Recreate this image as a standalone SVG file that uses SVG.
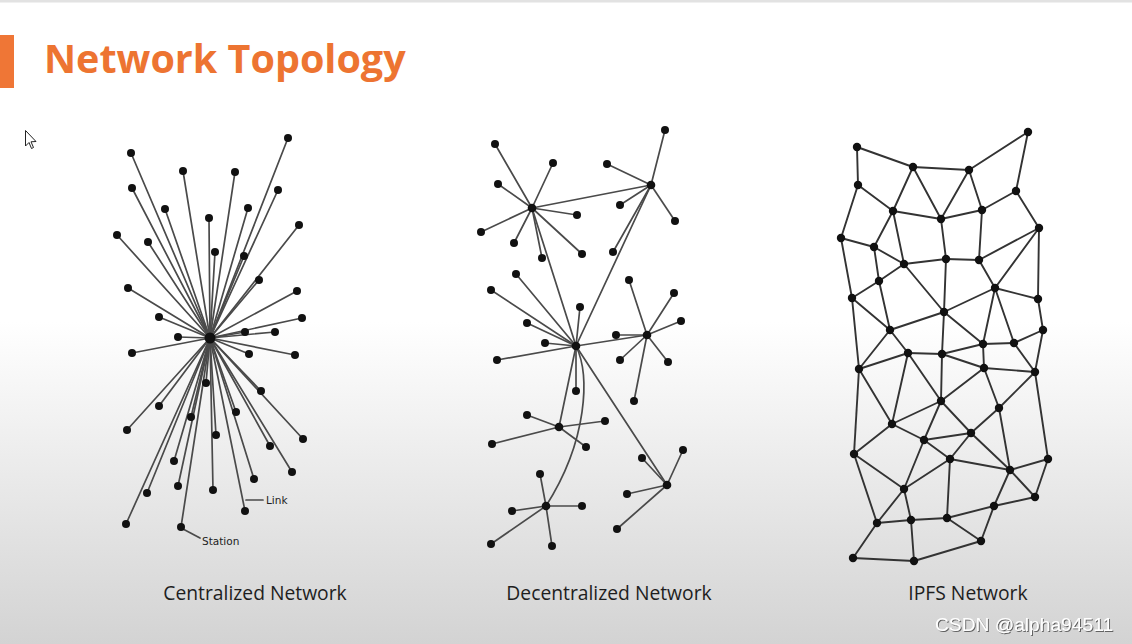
<svg xmlns="http://www.w3.org/2000/svg" width="1132" height="644" viewBox="0 0 1132 644">
<defs>
<linearGradient id="bg" x1="0" y1="0" x2="0" y2="1">
<stop offset="0" stop-color="#ffffff"/>
<stop offset="0.5" stop-color="#ffffff"/>
<stop offset="1" stop-color="#d3d3d3"/>
</linearGradient>
<filter id="sh" x="-10%" y="-30%" width="120%" height="160%">
<feDropShadow dx="1" dy="1" stdDeviation="0.6" flood-color="#555" flood-opacity="0.9"/>
</filter>
</defs>
<style>
.e{stroke:#4a4a4a;stroke-width:1.7;fill:none;stroke-linecap:round}
.ei{stroke:#333;stroke-width:1.9;fill:none;stroke-linecap:round}
.n{fill:#111}
.lab{font-family:"Open Sans","Liberation Sans",sans-serif;font-size:19.3px;fill:#1e1e1e;text-anchor:middle}
.small{font-family:"DejaVu Sans",sans-serif;font-size:10.5px;fill:#222}
</style>
<rect x="0" y="0" width="1132" height="644" fill="url(#bg)"/>
<rect x="0" y="0" width="1132" height="2.5" fill="#e2e2e2"/>
<g id="title">
<rect x="0" y="35" width="14" height="53" fill="#ef7636"/>
<text x="44" y="73" font-family="'Open Sans','Liberation Sans',sans-serif" font-weight="bold" font-size="39.5" fill="#ed7431">Network Topology</text>
</g>
<g id="cursor">
<path d="M25.5,130.5 L25.5,146 L29,142.5 L31.5,148.5 L33.5,147.5 L31,141.8 L36,141.5 Z" fill="#fff" stroke="#222" stroke-width="1"/>
</g>
<g id="connectors">
<g id="central-links">
<line class="e" x1="210" y1="338" x2="131" y2="153"/>
<line class="e" x1="210" y1="338" x2="288" y2="138"/>
<line class="e" x1="210" y1="338" x2="183" y2="171"/>
<line class="e" x1="210" y1="338" x2="235" y2="172"/>
<line class="e" x1="210" y1="338" x2="132" y2="188"/>
<line class="e" x1="210" y1="338" x2="278" y2="190"/>
<line class="e" x1="210" y1="338" x2="165" y2="209"/>
<line class="e" x1="210" y1="338" x2="248" y2="208"/>
<line class="e" x1="210" y1="338" x2="209" y2="218"/>
<line class="e" x1="210" y1="338" x2="299" y2="225"/>
<line class="e" x1="210" y1="338" x2="117" y2="235"/>
<line class="e" x1="210" y1="338" x2="148" y2="242"/>
<line class="e" x1="210" y1="338" x2="215" y2="252"/>
<line class="e" x1="210" y1="338" x2="244" y2="256"/>
<line class="e" x1="210" y1="338" x2="259" y2="280"/>
<line class="e" x1="210" y1="338" x2="128" y2="288"/>
<line class="e" x1="210" y1="338" x2="297" y2="291"/>
<line class="e" x1="210" y1="338" x2="159" y2="317"/>
<line class="e" x1="210" y1="338" x2="302" y2="318"/>
<line class="e" x1="210" y1="338" x2="245" y2="332"/>
<line class="e" x1="210" y1="338" x2="275" y2="332"/>
<line class="e" x1="210" y1="338" x2="178" y2="337"/>
<line class="e" x1="210" y1="338" x2="132" y2="353"/>
<line class="e" x1="210" y1="338" x2="249" y2="354"/>
<line class="e" x1="210" y1="338" x2="295" y2="355"/>
<line class="e" x1="210" y1="338" x2="206" y2="383"/>
<line class="e" x1="210" y1="338" x2="261" y2="391"/>
<line class="e" x1="210" y1="338" x2="159" y2="406"/>
<line class="e" x1="210" y1="338" x2="236" y2="412"/>
<line class="e" x1="210" y1="338" x2="191" y2="417"/>
<line class="e" x1="210" y1="338" x2="127" y2="430"/>
<line class="e" x1="210" y1="338" x2="303" y2="439"/>
<line class="e" x1="210" y1="338" x2="216" y2="435"/>
<line class="e" x1="210" y1="338" x2="270" y2="446"/>
<line class="e" x1="210" y1="338" x2="174" y2="461"/>
<line class="e" x1="210" y1="338" x2="292" y2="472"/>
<line class="e" x1="210" y1="338" x2="254" y2="479"/>
<line class="e" x1="210" y1="338" x2="178" y2="486"/>
<line class="e" x1="210" y1="338" x2="213" y2="490"/>
<line class="e" x1="210" y1="338" x2="147" y2="493"/>
<line class="e" x1="210" y1="338" x2="245" y2="511"/>
<line class="e" x1="210" y1="338" x2="126" y2="524"/>
<line class="e" x1="210" y1="338" x2="181" y2="527"/>
<line class="e" x1="246" y1="500" x2="263" y2="500" stroke-width="1.3"/>
<line class="e" x1="183" y1="529" x2="200" y2="538" stroke-width="1.3"/>
</g>
<g id="decentral-links">
<line class="e" x1="532" y1="208" x2="495" y2="144"/>
<line class="e" x1="532" y1="208" x2="553" y2="163"/>
<line class="e" x1="532" y1="208" x2="498" y2="184"/>
<line class="e" x1="532" y1="208" x2="577" y2="215"/>
<line class="e" x1="532" y1="208" x2="481" y2="232"/>
<line class="e" x1="532" y1="208" x2="514" y2="243"/>
<line class="e" x1="532" y1="208" x2="542" y2="258"/>
<line class="e" x1="532" y1="208" x2="582" y2="254"/>
<line class="e" x1="532" y1="208" x2="651" y2="185"/>
<line class="e" x1="532" y1="208" x2="576" y2="346"/>
<line class="e" x1="651" y1="185" x2="665" y2="130"/>
<line class="e" x1="651" y1="185" x2="607" y2="164"/>
<line class="e" x1="651" y1="185" x2="620" y2="205"/>
<line class="e" x1="651" y1="185" x2="675" y2="221"/>
<line class="e" x1="651" y1="185" x2="613" y2="252"/>
<line class="e" x1="651" y1="185" x2="576" y2="346"/>
<line class="e" x1="576" y1="346" x2="491" y2="290"/>
<line class="e" x1="576" y1="346" x2="516" y2="274"/>
<line class="e" x1="576" y1="346" x2="580" y2="307"/>
<line class="e" x1="576" y1="346" x2="527" y2="323"/>
<line class="e" x1="576" y1="346" x2="545" y2="343"/>
<line class="e" x1="576" y1="346" x2="497" y2="360"/>
<line class="e" x1="576" y1="346" x2="576" y2="391"/>
<line class="e" x1="576" y1="346" x2="647" y2="335"/>
<line class="e" x1="576" y1="346" x2="559" y2="427"/>
<line class="e" x1="576" y1="346" x2="667" y2="485"/>
<path class="e" d="M576,346 C590,375 588,440 546,506"/>
<line class="e" x1="647" y1="335" x2="629" y2="280"/>
<line class="e" x1="647" y1="335" x2="674" y2="293"/>
<line class="e" x1="647" y1="335" x2="681" y2="321"/>
<line class="e" x1="647" y1="335" x2="616" y2="335"/>
<line class="e" x1="647" y1="335" x2="620" y2="360"/>
<line class="e" x1="647" y1="335" x2="668" y2="362"/>
<line class="e" x1="647" y1="335" x2="634" y2="401"/>
<line class="e" x1="559" y1="427" x2="527" y2="415"/>
<line class="e" x1="559" y1="427" x2="605" y2="421"/>
<line class="e" x1="559" y1="427" x2="586" y2="447"/>
<line class="e" x1="559" y1="427" x2="492" y2="444"/>
<line class="e" x1="667" y1="485" x2="642" y2="458"/>
<line class="e" x1="667" y1="485" x2="683" y2="450"/>
<line class="e" x1="667" y1="485" x2="627" y2="494"/>
<line class="e" x1="667" y1="485" x2="617" y2="529"/>
<line class="e" x1="546" y1="506" x2="540" y2="474"/>
<line class="e" x1="546" y1="506" x2="512" y2="511"/>
<line class="e" x1="546" y1="506" x2="582" y2="506"/>
<line class="e" x1="546" y1="506" x2="491" y2="544"/>
<line class="e" x1="546" y1="506" x2="552" y2="546"/>
</g>
<g id="ipfs-links">
<line class="ei" x1="857" y1="147" x2="913" y2="167"/>
<line class="ei" x1="857" y1="147" x2="858" y2="185"/>
<line class="ei" x1="913" y1="167" x2="969" y2="170"/>
<line class="ei" x1="969" y1="170" x2="1028" y2="132"/>
<line class="ei" x1="1028" y1="132" x2="1016" y2="191"/>
<line class="ei" x1="913" y1="167" x2="893" y2="211"/>
<line class="ei" x1="913" y1="167" x2="941" y2="219"/>
<line class="ei" x1="969" y1="170" x2="941" y2="219"/>
<line class="ei" x1="969" y1="170" x2="982" y2="210"/>
<line class="ei" x1="1016" y1="191" x2="982" y2="210"/>
<line class="ei" x1="1016" y1="191" x2="1039" y2="228"/>
<line class="ei" x1="858" y1="185" x2="893" y2="211"/>
<line class="ei" x1="858" y1="185" x2="841" y2="238"/>
<line class="ei" x1="893" y1="211" x2="941" y2="219"/>
<line class="ei" x1="893" y1="211" x2="874" y2="247"/>
<line class="ei" x1="893" y1="211" x2="904" y2="264"/>
<line class="ei" x1="941" y1="219" x2="982" y2="210"/>
<line class="ei" x1="941" y1="219" x2="946" y2="259"/>
<line class="ei" x1="982" y1="210" x2="979" y2="260"/>
<line class="ei" x1="841" y1="238" x2="874" y2="247"/>
<line class="ei" x1="841" y1="238" x2="852" y2="298"/>
<line class="ei" x1="874" y1="247" x2="904" y2="264"/>
<line class="ei" x1="874" y1="247" x2="879" y2="281"/>
<line class="ei" x1="904" y1="264" x2="946" y2="259"/>
<line class="ei" x1="946" y1="259" x2="979" y2="260"/>
<line class="ei" x1="979" y1="260" x2="1039" y2="228"/>
<line class="ei" x1="1039" y1="228" x2="995" y2="288"/>
<line class="ei" x1="1039" y1="228" x2="1038" y2="299"/>
<line class="ei" x1="979" y1="260" x2="995" y2="288"/>
<line class="ei" x1="904" y1="264" x2="879" y2="281"/>
<line class="ei" x1="879" y1="281" x2="852" y2="298"/>
<line class="ei" x1="879" y1="281" x2="890" y2="330"/>
<line class="ei" x1="904" y1="264" x2="944" y2="312"/>
<line class="ei" x1="946" y1="259" x2="944" y2="312"/>
<line class="ei" x1="995" y1="288" x2="944" y2="312"/>
<line class="ei" x1="995" y1="288" x2="1038" y2="299"/>
<line class="ei" x1="852" y1="298" x2="890" y2="330"/>
<line class="ei" x1="1038" y1="299" x2="1043" y2="330"/>
<line class="ei" x1="890" y1="330" x2="944" y2="312"/>
<line class="ei" x1="852" y1="298" x2="859" y2="369"/>
<line class="ei" x1="890" y1="330" x2="908" y2="353"/>
<line class="ei" x1="890" y1="330" x2="859" y2="369"/>
<line class="ei" x1="944" y1="312" x2="942" y2="354"/>
<line class="ei" x1="944" y1="312" x2="983" y2="344"/>
<line class="ei" x1="995" y1="288" x2="983" y2="344"/>
<line class="ei" x1="995" y1="288" x2="1014" y2="343"/>
<line class="ei" x1="1043" y1="330" x2="1014" y2="343"/>
<line class="ei" x1="1043" y1="330" x2="1035" y2="372"/>
<line class="ei" x1="908" y1="353" x2="942" y2="354"/>
<line class="ei" x1="942" y1="354" x2="983" y2="344"/>
<line class="ei" x1="983" y1="344" x2="1014" y2="343"/>
<line class="ei" x1="983" y1="344" x2="984" y2="368"/>
<line class="ei" x1="1014" y1="343" x2="1035" y2="372"/>
<line class="ei" x1="984" y1="368" x2="1035" y2="372"/>
<line class="ei" x1="859" y1="369" x2="908" y2="353"/>
<line class="ei" x1="908" y1="353" x2="892" y2="424"/>
<line class="ei" x1="908" y1="353" x2="941" y2="401"/>
<line class="ei" x1="942" y1="354" x2="941" y2="401"/>
<line class="ei" x1="942" y1="354" x2="984" y2="368"/>
<line class="ei" x1="984" y1="368" x2="941" y2="401"/>
<line class="ei" x1="984" y1="368" x2="999" y2="408"/>
<line class="ei" x1="1035" y1="372" x2="999" y2="408"/>
<line class="ei" x1="1035" y1="372" x2="1048" y2="459"/>
<line class="ei" x1="859" y1="369" x2="892" y2="424"/>
<line class="ei" x1="859" y1="369" x2="854" y2="454"/>
<line class="ei" x1="892" y1="424" x2="941" y2="401"/>
<line class="ei" x1="892" y1="424" x2="924" y2="440"/>
<line class="ei" x1="941" y1="401" x2="924" y2="440"/>
<line class="ei" x1="941" y1="401" x2="971" y2="433"/>
<line class="ei" x1="999" y1="408" x2="971" y2="433"/>
<line class="ei" x1="999" y1="408" x2="1010" y2="470"/>
<line class="ei" x1="971" y1="433" x2="924" y2="440"/>
<line class="ei" x1="971" y1="433" x2="950" y2="459"/>
<line class="ei" x1="971" y1="433" x2="1010" y2="470"/>
<line class="ei" x1="924" y1="440" x2="950" y2="459"/>
<line class="ei" x1="924" y1="440" x2="904" y2="489"/>
<line class="ei" x1="854" y1="454" x2="892" y2="424"/>
<line class="ei" x1="854" y1="454" x2="904" y2="489"/>
<line class="ei" x1="854" y1="454" x2="877" y2="523"/>
<line class="ei" x1="950" y1="459" x2="904" y2="489"/>
<line class="ei" x1="950" y1="459" x2="1010" y2="470"/>
<line class="ei" x1="950" y1="459" x2="947" y2="518"/>
<line class="ei" x1="1010" y1="470" x2="1048" y2="459"/>
<line class="ei" x1="1010" y1="470" x2="1035" y2="497"/>
<line class="ei" x1="1010" y1="470" x2="994" y2="506"/>
<line class="ei" x1="1048" y1="459" x2="1035" y2="497"/>
<line class="ei" x1="994" y1="506" x2="1035" y2="497"/>
<line class="ei" x1="994" y1="506" x2="947" y2="518"/>
<line class="ei" x1="994" y1="506" x2="981" y2="541"/>
<line class="ei" x1="947" y1="518" x2="981" y2="541"/>
<line class="ei" x1="947" y1="518" x2="911" y2="520"/>
<line class="ei" x1="911" y1="520" x2="877" y2="523"/>
<line class="ei" x1="911" y1="520" x2="904" y2="489"/>
<line class="ei" x1="877" y1="523" x2="904" y2="489"/>
<line class="ei" x1="911" y1="520" x2="914" y2="561"/>
<line class="ei" x1="877" y1="523" x2="853" y2="558"/>
<line class="ei" x1="853" y1="558" x2="914" y2="561"/>
<line class="ei" x1="914" y1="561" x2="981" y2="541"/>
</g>
</g>
<g id="central-nodes">
<g id="c-hub"><circle class="n" cx="210" cy="338" r="5.5"/></g>
<g id="c1"><circle class="n" cx="131" cy="153" r="4"/></g>
<g id="c2"><circle class="n" cx="288" cy="138" r="4"/></g>
<g id="c3"><circle class="n" cx="183" cy="171" r="4"/></g>
<g id="c4"><circle class="n" cx="235" cy="172" r="4"/></g>
<g id="c5"><circle class="n" cx="132" cy="188" r="4"/></g>
<g id="c6"><circle class="n" cx="278" cy="190" r="4"/></g>
<g id="c7"><circle class="n" cx="165" cy="209" r="4"/></g>
<g id="c8"><circle class="n" cx="248" cy="208" r="4"/></g>
<g id="c9"><circle class="n" cx="209" cy="218" r="4"/></g>
<g id="c10"><circle class="n" cx="299" cy="225" r="4"/></g>
<g id="c11"><circle class="n" cx="117" cy="235" r="4"/></g>
<g id="c12"><circle class="n" cx="148" cy="242" r="4"/></g>
<g id="c13"><circle class="n" cx="215" cy="252" r="4"/></g>
<g id="c14"><circle class="n" cx="244" cy="256" r="4"/></g>
<g id="c15"><circle class="n" cx="259" cy="280" r="4"/></g>
<g id="c16"><circle class="n" cx="128" cy="288" r="4"/></g>
<g id="c17"><circle class="n" cx="297" cy="291" r="4"/></g>
<g id="c18"><circle class="n" cx="159" cy="317" r="4"/></g>
<g id="c19"><circle class="n" cx="302" cy="318" r="4"/></g>
<g id="c20"><circle class="n" cx="245" cy="332" r="4"/></g>
<g id="c21"><circle class="n" cx="275" cy="332" r="4"/></g>
<g id="c22"><circle class="n" cx="178" cy="337" r="4"/></g>
<g id="c23"><circle class="n" cx="132" cy="353" r="4"/></g>
<g id="c24"><circle class="n" cx="249" cy="354" r="4"/></g>
<g id="c25"><circle class="n" cx="295" cy="355" r="4"/></g>
<g id="c26"><circle class="n" cx="206" cy="383" r="4"/></g>
<g id="c27"><circle class="n" cx="261" cy="391" r="4"/></g>
<g id="c28"><circle class="n" cx="159" cy="406" r="4"/></g>
<g id="c29"><circle class="n" cx="236" cy="412" r="4"/></g>
<g id="c30"><circle class="n" cx="191" cy="417" r="4"/></g>
<g id="c31"><circle class="n" cx="127" cy="430" r="4"/></g>
<g id="c32"><circle class="n" cx="303" cy="439" r="4"/></g>
<g id="c33"><circle class="n" cx="216" cy="435" r="4"/></g>
<g id="c34"><circle class="n" cx="270" cy="446" r="4"/></g>
<g id="c35"><circle class="n" cx="174" cy="461" r="4"/></g>
<g id="c36"><circle class="n" cx="292" cy="472" r="4"/></g>
<g id="c37"><circle class="n" cx="254" cy="479" r="4"/></g>
<g id="c38"><circle class="n" cx="178" cy="486" r="4"/></g>
<g id="c39"><circle class="n" cx="213" cy="490" r="4"/></g>
<g id="c40"><circle class="n" cx="147" cy="493" r="4"/></g>
<g id="c41"><circle class="n" cx="245" cy="511" r="4"/></g>
<g id="c42"><circle class="n" cx="126" cy="524" r="4"/></g>
<g id="c43"><circle class="n" cx="181" cy="527" r="4"/></g>
<text class="small" x="266" y="504">Link</text>
<text class="small" x="202" y="545">Station</text>
</g>
<g id="decentral-nodes">
<g id="dA"><circle class="n" cx="532" cy="208" r="4.3"/></g>
<g id="dB"><circle class="n" cx="651" cy="185" r="4.3"/></g>
<g id="dC"><circle class="n" cx="576" cy="346" r="4.3"/></g>
<g id="dD"><circle class="n" cx="647" cy="335" r="4.3"/></g>
<g id="dE"><circle class="n" cx="559" cy="427" r="4.3"/></g>
<g id="dF"><circle class="n" cx="667" cy="485" r="4.3"/></g>
<g id="dG"><circle class="n" cx="546" cy="506" r="4.3"/></g>
<g id="d1"><circle class="n" cx="495" cy="144" r="4"/></g>
<g id="d2"><circle class="n" cx="553" cy="163" r="4"/></g>
<g id="d3"><circle class="n" cx="498" cy="184" r="4"/></g>
<g id="d4"><circle class="n" cx="577" cy="215" r="4"/></g>
<g id="d5"><circle class="n" cx="481" cy="232" r="4"/></g>
<g id="d6"><circle class="n" cx="514" cy="243" r="4"/></g>
<g id="d7"><circle class="n" cx="542" cy="258" r="4"/></g>
<g id="d8"><circle class="n" cx="582" cy="254" r="4"/></g>
<g id="d9"><circle class="n" cx="665" cy="130" r="4"/></g>
<g id="d10"><circle class="n" cx="607" cy="164" r="4"/></g>
<g id="d11"><circle class="n" cx="620" cy="205" r="4"/></g>
<g id="d12"><circle class="n" cx="675" cy="221" r="4"/></g>
<g id="d13"><circle class="n" cx="613" cy="252" r="4"/></g>
<g id="d14"><circle class="n" cx="491" cy="290" r="4"/></g>
<g id="d15"><circle class="n" cx="516" cy="274" r="4"/></g>
<g id="d16"><circle class="n" cx="580" cy="307" r="4"/></g>
<g id="d17"><circle class="n" cx="527" cy="323" r="4"/></g>
<g id="d18"><circle class="n" cx="545" cy="343" r="4"/></g>
<g id="d19"><circle class="n" cx="497" cy="360" r="4"/></g>
<g id="d20"><circle class="n" cx="576" cy="391" r="4"/></g>
<g id="d21"><circle class="n" cx="629" cy="280" r="4"/></g>
<g id="d22"><circle class="n" cx="674" cy="293" r="4"/></g>
<g id="d23"><circle class="n" cx="681" cy="321" r="4"/></g>
<g id="d24"><circle class="n" cx="616" cy="335" r="4"/></g>
<g id="d25"><circle class="n" cx="620" cy="360" r="4"/></g>
<g id="d26"><circle class="n" cx="668" cy="362" r="4"/></g>
<g id="d27"><circle class="n" cx="634" cy="401" r="4"/></g>
<g id="d28"><circle class="n" cx="527" cy="415" r="4"/></g>
<g id="d29"><circle class="n" cx="605" cy="421" r="4"/></g>
<g id="d30"><circle class="n" cx="586" cy="447" r="4"/></g>
<g id="d31"><circle class="n" cx="492" cy="444" r="4"/></g>
<g id="d32"><circle class="n" cx="642" cy="458" r="4"/></g>
<g id="d33"><circle class="n" cx="683" cy="450" r="4"/></g>
<g id="d34"><circle class="n" cx="627" cy="494" r="4"/></g>
<g id="d35"><circle class="n" cx="617" cy="529" r="4"/></g>
<g id="d36"><circle class="n" cx="540" cy="474" r="4"/></g>
<g id="d37"><circle class="n" cx="512" cy="511" r="4"/></g>
<g id="d38"><circle class="n" cx="582" cy="506" r="4"/></g>
<g id="d39"><circle class="n" cx="491" cy="544" r="4"/></g>
<g id="d40"><circle class="n" cx="552" cy="546" r="4"/></g>
</g>
<g id="ipfs-nodes">
<g id="n1"><circle class="n" cx="857" cy="147" r="4.2"/></g>
<g id="n2"><circle class="n" cx="1028" cy="132" r="4.2"/></g>
<g id="n3"><circle class="n" cx="913" cy="167" r="4.2"/></g>
<g id="n4"><circle class="n" cx="969" cy="170" r="4.2"/></g>
<g id="n5"><circle class="n" cx="858" cy="185" r="4.2"/></g>
<g id="n6"><circle class="n" cx="1016" cy="191" r="4.2"/></g>
<g id="n7"><circle class="n" cx="893" cy="211" r="4.2"/></g>
<g id="n8"><circle class="n" cx="982" cy="210" r="4.2"/></g>
<g id="n9"><circle class="n" cx="941" cy="219" r="4.2"/></g>
<g id="n10"><circle class="n" cx="1039" cy="228" r="4.2"/></g>
<g id="n11"><circle class="n" cx="841" cy="238" r="4.2"/></g>
<g id="n12"><circle class="n" cx="874" cy="247" r="4.2"/></g>
<g id="n13"><circle class="n" cx="946" cy="259" r="4.2"/></g>
<g id="n14"><circle class="n" cx="979" cy="260" r="4.2"/></g>
<g id="n15"><circle class="n" cx="904" cy="264" r="4.2"/></g>
<g id="n16"><circle class="n" cx="879" cy="281" r="4.2"/></g>
<g id="n17"><circle class="n" cx="995" cy="288" r="4.2"/></g>
<g id="n18"><circle class="n" cx="852" cy="298" r="4.2"/></g>
<g id="n19"><circle class="n" cx="1038" cy="299" r="4.2"/></g>
<g id="n20"><circle class="n" cx="944" cy="312" r="4.2"/></g>
<g id="n21"><circle class="n" cx="890" cy="330" r="4.2"/></g>
<g id="n22"><circle class="n" cx="1043" cy="330" r="4.2"/></g>
<g id="m1"><circle class="n" cx="983" cy="344" r="4.2"/></g>
<g id="m2"><circle class="n" cx="1014" cy="343" r="4.2"/></g>
<g id="m3"><circle class="n" cx="908" cy="353" r="4.2"/></g>
<g id="m4"><circle class="n" cx="942" cy="354" r="4.2"/></g>
<g id="m5"><circle class="n" cx="859" cy="369" r="4.2"/></g>
<g id="m6"><circle class="n" cx="984" cy="368" r="4.2"/></g>
<g id="m7"><circle class="n" cx="1035" cy="372" r="4.2"/></g>
<g id="m8"><circle class="n" cx="941" cy="401" r="4.2"/></g>
<g id="m9"><circle class="n" cx="999" cy="408" r="4.2"/></g>
<g id="m10"><circle class="n" cx="892" cy="424" r="4.2"/></g>
<g id="m11"><circle class="n" cx="971" cy="433" r="4.2"/></g>
<g id="m12"><circle class="n" cx="924" cy="440" r="4.2"/></g>
<g id="m13"><circle class="n" cx="950" cy="459" r="4.2"/></g>
<g id="m14"><circle class="n" cx="854" cy="454" r="4.2"/></g>
<g id="m15"><circle class="n" cx="1048" cy="459" r="4.2"/></g>
<g id="m16"><circle class="n" cx="1010" cy="470" r="4.2"/></g>
<g id="m17"><circle class="n" cx="904" cy="489" r="4.2"/></g>
<g id="m18"><circle class="n" cx="1035" cy="497" r="4.2"/></g>
<g id="m19"><circle class="n" cx="994" cy="506" r="4.2"/></g>
<g id="m20"><circle class="n" cx="877" cy="523" r="4.2"/></g>
<g id="m21"><circle class="n" cx="911" cy="520" r="4.2"/></g>
<g id="m22"><circle class="n" cx="947" cy="518" r="4.2"/></g>
<g id="m23"><circle class="n" cx="981" cy="541" r="4.2"/></g>
<g id="m24"><circle class="n" cx="853" cy="558" r="4.2"/></g>
<g id="m25"><circle class="n" cx="914" cy="561" r="4.2"/></g>
</g>
<g id="labels">
<text class="lab" x="255" y="600">Centralized Network</text>
<text class="lab" x="609" y="600">Decentralized Network</text>
<text class="lab" x="968" y="600">IPFS Network</text>
</g>
<g id="watermark">
<text x="935" y="631" font-family="'Liberation Sans',Arial,sans-serif" font-size="19.2" fill="#ffffff" filter="url(#sh)">CSDN @alpha94511</text>
</g>
</svg>
